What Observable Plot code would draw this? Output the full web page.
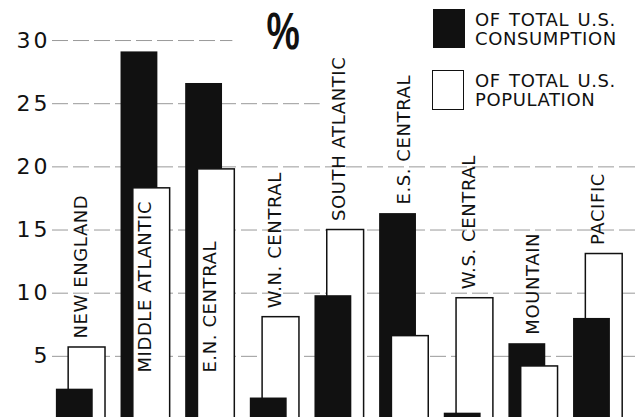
<!DOCTYPE html>
<html><head><meta charset="utf-8">
<script src="https://cdn.jsdelivr.net/npm/d3@7"></script>
<script src="https://cdn.jsdelivr.net/npm/@observablehq/plot@0.6"></script>
<style>
body{margin:0;background:#fff;}
#wrap{position:relative;width:639px;height:417px;overflow:hidden;font-family:"DejaVu Sans",sans-serif;color:#111;}
#wrap svg{position:absolute;left:0;top:0;}
.pct{position:absolute;left:260px;top:5px;width:46px;text-align:center;font-family:"Liberation Sans",sans-serif;font-size:52px;line-height:52px;font-weight:bold;transform:scaleX(0.72);}
.sw{position:absolute;width:32px;box-sizing:border-box;}
.lt{position:absolute;left:475px;font-size:18px;line-height:19px;letter-spacing:0.6px;word-spacing:2px;white-space:nowrap;}
</style></head>
<body><div id="wrap"></div>
<script>
const regions = ["NEW ENGLAND","MIDDLE ATLANTIC","E.N. CENTRAL","W.N. CENTRAL","SOUTH ATLANTIC","E.S. CENTRAL","W.S. CENTRAL","MOUNTAIN","PACIFIC"];
const consumption = [2.4, 29.1, 26.6, 1.7, 9.8, 16.3, 0.5, 6.0, 8.0];
const population  = [5.7, 18.3, 19.8, 8.1, 15.0, 6.6, 9.6, 4.2, 13.1];
const yTicks = [5, 10, 15, 20, 25, 30];
const legendLines = [["OF TOTAL U.S.", "CONSUMPTION"], ["OF TOTAL U.S.", "POPULATION"]];
const unitLabel = "%";

// bars: consumption (black) sits left, population (white) offset right, overlapping
const W = 0.57, OFF = 0.19;
const bars = [];
regions.forEach((r, i) => {
  bars.push({i, series: "consumption", value: consumption[i], x1: i - 2 * OFF, x2: i - 2 * OFF + W});
  bars.push({i, series: "population", value: population[i], x1: i - OFF, x2: i - OFF + W});
});
// shorter bar drawn in front
const ordered = d3.sort(bars, (a, b) => b.value - a.value);

const labels = regions.map((r, i) => {
  const m = Math.max(consumption[i], population[i]);
  return {i, name: r, ly: m < 20 ? m : 3.0};
});

// top gridlines stop short of the title / legend area
const grid = yTicks.map(v => ({v, end: v >= 30 ? 2.35 : v >= 25 ? 3.7 : 8.64}));

const chart = Plot.plot({
  width: 639, height: 417,
  marginLeft: 52, marginRight: 0, marginTop: 0, marginBottom: 0,
  x: {domain: [-0.44, 8.64], axis: null},
  y: {domain: [0.158, 33.17]},
  style: {fontFamily: "DejaVu Sans, sans-serif", background: "transparent", color: "#111"},
  marks: [
    Plot.axisY(yTicks, {tickSize: 0, tickPadding: 2, fontSize: 22, label: null}),
    Plot.ruleY(grid, {y: "v", x1: -0.44, x2: "end", stroke: "#999", strokeWidth: 1, strokeDasharray: "16,5"}),
    Plot.rect(ordered, {
      x1: "x1", x2: "x2", y1: 0, y2: "value", clip: true,
      fill: d => d.series === "consumption" ? "#111" : "#fff",
      stroke: "#111", strokeWidth: d => d.series === "consumption" ? 0 : 1.5
    }),
    Plot.text(labels, {x: "i", y: "ly", text: "name", rotate: -90, textAnchor: "start", lineAnchor: "middle", dy: -9, fontSize: 18, fill: "#111"})
  ]
});
d3.select(chart).selectAll('g[aria-label="text"] text').style("letter-spacing", "0.6px");
d3.select(chart).selectAll('g[aria-label="y-axis tick label"] text').style("letter-spacing", "3px");

const wrap = document.getElementById("wrap");
wrap.appendChild(chart);

const pct = document.createElement("div");
pct.className = "pct"; pct.textContent = unitLabel;
wrap.appendChild(pct);

const sw1 = document.createElement("div");
sw1.className = "sw"; sw1.style.cssText = "left:433px;top:9px;height:39px;background:#111;";
wrap.appendChild(sw1);
const sw2 = document.createElement("div");
sw2.className = "sw"; sw2.style.cssText = "left:432px;top:70px;height:40px;background:#fff;border:1.5px solid #111;";
wrap.appendChild(sw2);

[[10, legendLines[0]], [71, legendLines[1]]].forEach(([top, lines]) => {
  const t = document.createElement("div");
  t.className = "lt"; t.style.top = top + "px";
  t.innerHTML = lines.join("<br>");
  wrap.appendChild(t);
});
</script>
</body></html>
